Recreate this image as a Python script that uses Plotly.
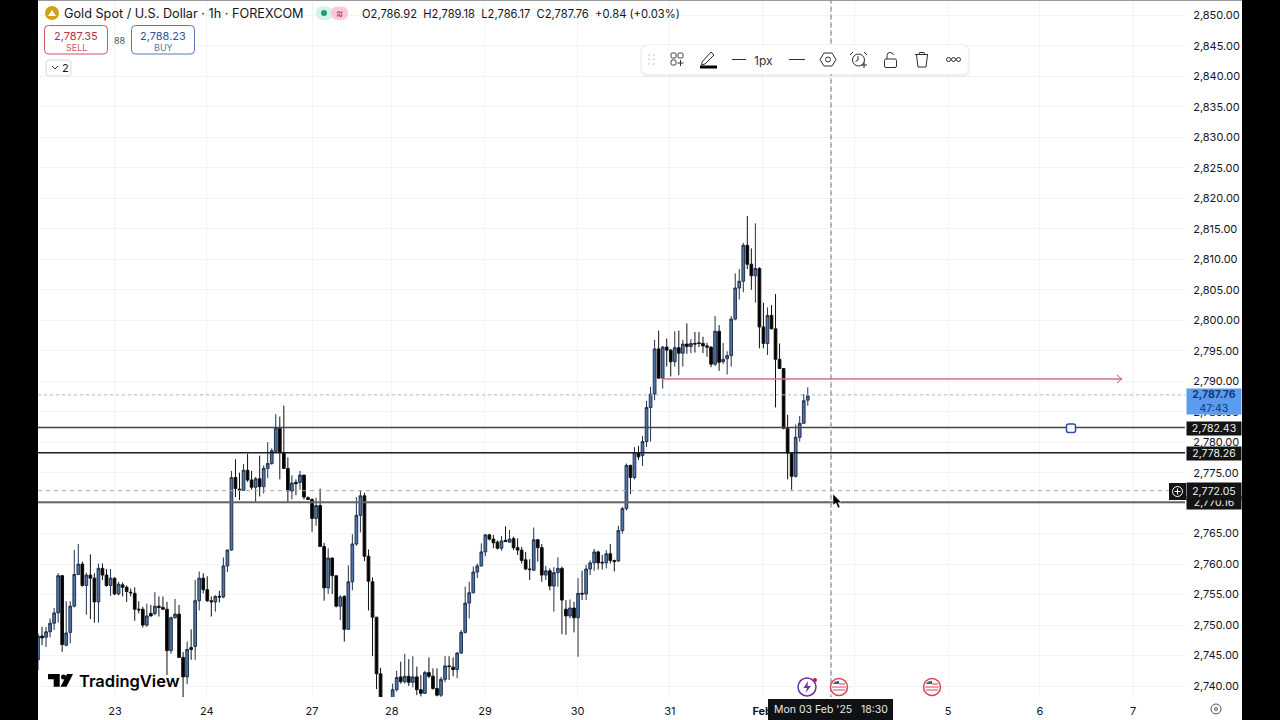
import plotly.graph_objects as go

# hourly bars, oldest first
opens = [2744.3,2748.2,2748.0,2748.9,2750.3,2752.0,2758.1,2746.7,2748.8,2753.1,2758.3,2760.0,2756.5,2758.2,2757.7,2753.8,
         2759.3,2758.2,2756.5,2757.7,2755.1,2756.6,2756.2,2755.4,2755.2,2752.6,2752.6,2750.0,2751.9,2751.9,2753.1,2752.9,
         2752.6,2745.8,2751.2,2751.8,2744.7,2741.5,2746.3,2746.5,2754.0,2757.7,2755.8,2754.0,2753.8,2754.7,2754.6,2759.7,
         2762.3,2774.2,2772.3,2772.1,2775.4,2773.8,2772.6,2774.0,2772.7,2775.7,2776.5,2778.5,2782.3,2778.3,2775.7,2772.0,
         2773.4,2773.4,2774.6,2770.9,2770.6,2767.5,2769.6,2762.9,2756.1,2761.0,2758.1,2753.1,2754.7,2749.3,2757.1,2763.3,
         2768.0,2771.2,2761.3,2757.1,2751.3,2742.0,2736.6,2737.0,2738.0,2739.4,2741.5,2740.7,2741.6,2740.6,2741.5,2739.4,
         2738.8,2742.2,2741.6,2739.6,2738.5,2741.1,2743.3,2743.1,2742.7,2745.4,2748.8,2753.6,2755.3,2758.7,2759.7,2762.0,
         2764.8,2764.1,2763.6,2762.6,2763.9,2763.6,2764.2,2762.7,2762.3,2760.7,2759.2,2759.0,2764.0,2762.7,2758.2,2758.9,
         2756.4,2758.6,2759.3,2752.6,2751.5,2752.8,2751.2,2755.2,2755.1,2759.2,2760.2,2762.0,2760.3,2760.2,2761.7,2760.6,
         2760.5,2765.5,2769.1,2776.2,2774.2,2778.3,2777.8,2780.1,2785.7,2787.9,2795.3,2790.5,2795.6,2795.1,2793.2,2795.5,
         2794.6,2796.1,2795.7,2796.2,2796.3,2796.2,2795.8,2795.6,2792.8,2798.2,2793.2,2793.7,2794.2,2800.2,2805.3,2806.4,
         2812.3,2809.2,2807.3,2808.5,2798.9,2796.2,2800.8,2798.6,2793.6,2792.1,2782.3,2778.2,2774.4,2780.8,2783.1,2786.9]
highs = [2748.7,2749.7,2749.7,2751.1,2752.8,2758.5,2758.2,2753.9,2753.9,2762.3,2763.3,2760.4,2758.6,2761.6,2758.5,2760.1,
         2760.1,2759.2,2759.2,2757.8,2757.1,2757.0,2756.5,2756.0,2756.2,2753.9,2753.0,2753.5,2753.3,2755.4,2754.7,2754.7,
         2753.8,2751.4,2754.3,2753.3,2745.6,2747.3,2749.3,2757.4,2758.8,2758.5,2758.0,2754.7,2754.9,2755.6,2761.1,2762.4,
         2775.3,2777.2,2775.0,2776.4,2778.1,2775.3,2774.3,2777.8,2776.2,2780.0,2779.0,2784.6,2784.2,2786.0,2777.5,2774.6,
         2773.9,2775.3,2774.6,2771.1,2770.8,2770.9,2772.4,2763.5,2762.6,2761.0,2758.1,2754.9,2754.9,2759.8,2764.9,2771.0,
         2772.0,2771.7,2762.4,2757.8,2751.3,2743.0,2737.8,2737.9,2740.4,2742.5,2744.0,2745.3,2744.4,2744.9,2743.2,2741.8,
         2742.5,2744.7,2742.9,2742.9,2741.5,2744.9,2744.9,2744.7,2745.6,2749.2,2756.3,2757.1,2759.6,2760.1,2763.4,2764.9,
         2764.9,2764.8,2763.9,2764.6,2766.2,2765.6,2764.5,2764.2,2762.8,2762.0,2760.8,2766.0,2764.1,2763.3,2759.7,2759.3,
         2759.5,2761.1,2759.6,2754.1,2754.2,2753.8,2757.7,2758.9,2759.9,2760.6,2762.5,2762.2,2761.5,2762.3,2763.3,2760.7,
         2766.3,2769.4,2776.5,2776.3,2779.2,2779.4,2781.0,2786.8,2789.1,2796.8,2798.3,2795.8,2797.0,2795.3,2798.2,2798.3,
         2796.8,2799.5,2796.9,2798.1,2798.1,2797.3,2796.3,2795.7,2800.7,2799.2,2796.3,2794.9,2800.7,2807.7,2808.4,2812.7,
         2817.1,2811.8,2815.9,2808.7,2802.9,2802.1,2802.5,2804.3,2796.2,2792.1,2784.5,2778.2,2782.9,2784.3,2787.9,2789.0]
lows = [2742.6,2746.7,2746.4,2748.0,2749.2,2750.4,2745.6,2746.5,2747.0,2752.9,2758.2,2756.3,2751.7,2751.0,2750.4,2750.4,
        2757.4,2756.3,2754.8,2754.9,2754.9,2754.7,2753.8,2754.7,2750.7,2751.9,2749.6,2749.7,2751.4,2751.6,2751.4,2752.5,
        2741.8,2745.3,2751.1,2744.7,2738.2,2740.3,2744.3,2744.3,2752.4,2755.2,2753.8,2751.4,2752.2,2753.7,2754.4,2758.7,
        2762.2,2771.0,2770.5,2772.1,2773.5,2772.2,2770.1,2771.1,2771.6,2774.1,2776.3,2778.3,2773.9,2775.6,2770.1,2770.6,
        2771.3,2772.2,2770.6,2770.5,2765.3,2766.3,2762.9,2754.0,2755.1,2755.1,2752.9,2750.8,2747.3,2749.3,2755.7,2763.0,
        2765.2,2760.5,2752.4,2744.9,2739.5,2735.5,2735.0,2735.5,2737.5,2739.1,2740.4,2740.4,2740.0,2739.8,2738.5,2738.3,
        2738.7,2741.3,2739.4,2738.3,2738.2,2740.6,2741.0,2741.6,2741.3,2745.3,2748.6,2751.1,2755.2,2757.7,2759.6,2761.3,
        2763.9,2762.6,2762.4,2762.2,2763.7,2763.5,2762.3,2761.5,2760.1,2759.0,2757.4,2758.9,2760.4,2757.1,2757.4,2755.7,
        2752.2,2756.3,2748.5,2748.4,2751.1,2748.8,2744.8,2754.1,2754.1,2758.2,2758.9,2759.1,2759.1,2759.3,2760.1,2758.8,
        2760.4,2765.0,2768.8,2771.5,2773.9,2777.1,2776.1,2779.2,2780.1,2786.9,2790.5,2788.8,2792.4,2790.8,2792.4,2791.0,
        2792.4,2794.5,2794.6,2794.7,2795.6,2794.6,2794.0,2792.3,2792.5,2791.7,2792.8,2791.1,2792.4,2800.0,2803.4,2804.6,
        2808.4,2805.0,2802.9,2795.4,2795.4,2794.3,2798.5,2785.7,2792.0,2782.1,2773.9,2772.2,2774.2,2780.1,2783.0,2786.0]
closes = [2748.2,2747.9,2748.9,2750.3,2752.0,2758.1,2746.8,2748.7,2753.1,2758.3,2760.0,2756.5,2758.2,2757.7,2753.8,2759.3,
          2758.2,2756.5,2757.7,2755.1,2756.7,2756.2,2755.5,2755.3,2752.6,2752.5,2750.0,2751.5,2751.5,2753.1,2752.9,2752.6,
          2745.8,2751.2,2751.8,2744.7,2741.5,2746.0,2746.0,2754.0,2757.7,2755.8,2754.0,2753.8,2754.7,2754.6,2759.7,2762.3,
          2774.2,2772.4,2772.1,2775.4,2773.8,2772.6,2774.0,2772.7,2775.7,2776.5,2778.6,2782.3,2778.3,2775.7,2772.0,2773.3,
          2773.2,2774.6,2771.0,2770.6,2767.5,2769.6,2762.9,2756.1,2761.0,2758.1,2753.1,2754.6,2749.3,2757.1,2763.3,2768.0,
          2771.2,2761.3,2757.2,2751.3,2742.0,2736.6,2737.0,2736.3,2739.4,2741.4,2740.7,2741.6,2740.6,2741.5,2739.4,2738.8,
          2742.2,2741.6,2739.6,2738.5,2741.1,2743.3,2743.2,2742.7,2745.4,2748.8,2753.6,2755.3,2758.7,2759.7,2762.0,2764.8,
          2764.1,2763.5,2762.6,2763.8,2763.7,2764.1,2762.7,2762.3,2760.6,2759.2,2759.1,2764.0,2762.7,2758.2,2758.9,2756.4,
          2758.6,2759.3,2754.1,2751.5,2752.8,2751.2,2755.2,2755.1,2759.2,2760.2,2762.0,2760.2,2760.2,2761.7,2760.6,2760.4,
          2765.5,2769.1,2776.2,2774.2,2778.3,2777.6,2780.1,2785.7,2787.9,2795.3,2790.5,2795.6,2795.1,2793.2,2795.5,2794.6,
          2796.1,2795.7,2796.2,2796.1,2796.2,2795.8,2795.6,2792.8,2798.2,2793.1,2793.6,2794.2,2800.2,2805.3,2806.4,2812.3,
          2809.2,2807.3,2808.5,2798.9,2796.2,2800.8,2798.6,2793.6,2792.1,2782.3,2778.2,2774.4,2780.8,2783.1,2786.8,2787.6]
bars = list(range(len(opens)))

price_ticks = list(range(2740, 2855, 5))
day_ticks = [19.1, 41.9, 68.0, 87.8, 110.9, 133.9, 156.8, 179.7, 202.7, 225.8, 248.6, 271.7]
day_labels = ["23", "24", "27", "28", "29", "30", "31", "<b>Feb</b>", "4", "5", "6", "7"]

level_prices = [2782.43, 2778.26, 2770.16]
level_colors = ["#444444", "#1c1c1c", "#666666"]
level_widths = [1.5, 1.4, 2]
last_price = 2787.76
cross_price = 2772.05
ray_price = 2790.37
ray_start = 154.8
ray_end = 269.0

FONT = "Inter"
INK = "#131722"

fig = go.Figure()
fig.add_trace(go.Candlestick(
    x=bars, open=opens, high=highs, low=lows, close=closes,
    increasing=dict(fillcolor="#4f74a8", line=dict(color="#22324e", width=1)),
    decreasing=dict(fillcolor="#000000", line=dict(color="#111111", width=1)),
    whiskerwidth=0, showlegend=False, hoverinfo="skip",
))
# hidden overlay in screen pixels for the platform furniture
fig.add_trace(go.Scatter(x=[0], y=[0], xaxis="x2", yaxis="y2", mode="markers",
                         marker=dict(opacity=0), showlegend=False, hoverinfo="skip"))

fig.update_layout(
    width=1280, height=720, margin=dict(l=0, r=0, t=0, b=0),
    paper_bgcolor="white", plot_bgcolor="rgba(0,0,0,0)", boxgap=0.05,
    font=dict(family=FONT, color=INK, size=11),
    xaxis=dict(domain=[38/1280, 1185/1280], range=[0, 284.6], tickmode="array",
               tickvals=day_ticks, ticktext=day_labels, showgrid=True, gridcolor="#f2f3f5",
               zeroline=False, rangeslider=dict(visible=False), ticks="outside",
               ticklen=4, tickcolor="rgba(0,0,0,0)", fixedrange=True),
    yaxis=dict(domain=[23/720, 1], range=[2738.2, 2852.54], side="right", tickmode="array",
               tickvals=price_ticks, tickformat=",.2f", showgrid=True, gridcolor="#f2f3f5",
               zeroline=False, ticks="outside", ticklen=5, tickcolor="rgba(0,0,0,0)", fixedrange=True),
    xaxis2=dict(domain=[0, 1], range=[0, 1280], visible=False, anchor="y2", fixedrange=True),
    yaxis2=dict(domain=[0, 1], range=[720, 0], visible=False, anchor="x2", fixedrange=True),
)


def box(x0, y0, x1, y1, fill=None, line=None, width=1, kind="rect", dash=None):
    fig.add_shape(type=kind, xref="x2", yref="y2", x0=x0, y0=y0, x1=x1, y1=y1, layer="above",
                  fillcolor=fill or "rgba(0,0,0,0)",
                  line=dict(color=line or "rgba(0,0,0,0)", width=width, dash=dash))


def path(p, fill=None, line="#2a2e39", width=1):
    fig.add_shape(type="path", path=p, xref="x2", yref="y2", layer="above",
                  fillcolor=fill or "rgba(0,0,0,0)",
                  line=dict(color=line or "rgba(0,0,0,0)", width=width))


def rounded(x0, y0, x1, y1, r, fill=None, line=None, width=1):
    p = (f"M{x0+r},{y0} L{x1-r},{y0} Q{x1},{y0} {x1},{y0+r} L{x1},{y1-r} Q{x1},{y1} {x1-r},{y1} "
         f"L{x0+r},{y1} Q{x0},{y1} {x0},{y1-r} L{x0},{y0+r} Q{x0},{y0} {x0+r},{y0} Z")
    path(p, fill, line, width)


def text(x, y, s, size=11, color=INK, anchor="left", bg=None, **kw):
    fig.add_annotation(x=x, y=y, xref="x2", yref="y2", text=s, showarrow=False, xanchor=anchor,
                       yanchor="middle", font=dict(size=size, color=color, family=FONT),
                       bgcolor=bg, borderpad=0, **kw)


# drawn levels and crosshair on the price scale
for level, color, w in zip(level_prices, level_colors, level_widths):
    fig.add_shape(type="line", x0=0, x1=1, xref="x domain", y0=level, y1=level, yref="y",
                  line=dict(color=color, width=w), layer="above")
fig.add_shape(type="line", x0=0, x1=1, xref="x domain", y0=last_price, y1=last_price, yref="y",
              line=dict(color="#8fc0cc", width=1, dash="dot"), layer="above")
fig.add_shape(type="line", x0=0, x1=1, xref="x domain", y0=cross_price, y1=cross_price, yref="y",
              line=dict(color="#a4a7ae", width=1, dash="4px,4px"), layer="above")
fig.add_shape(type="line", x0=ray_start, x1=ray_end, xref="x", y0=ray_price, y1=ray_price, yref="y",
              line=dict(color="#cf7283", width=1.3), layer="above")
path("M1117,375 L1121.5,379 L1117,383", None, "#c9566b", 1)
box(831, 0, 831, 697, None, "#8f929a", 1, dash="4px,4px")
rounded(1066.5, 424, 1075.5, 432.5, 2, "white", "#2a4ea0", 1.5)

# side bars and frame
box(0, 0, 38, 720, "black")
box(1242, 0, 1280, 720, "black")
box(38, 0, 1242, 1, "#9a9a9a")

# header
box(45, 6, 59, 20, "#d4a017", None, kind="circle")
path("M48,16 L52,10 L56,16 Z", "white", None)
text(63, 13.5, "Gold Spot / U.S. Dollar · 1h · FOREXCOM", 12.7)
rounded(316, 6.5, 333, 20, 6.5, "#d7f2e7")
rounded(331, 6.5, 348, 20, 6.5, "#f9c9dc")
box(321, 10, 327, 16, "#1f9d73", None, kind="circle")
text(339, 13, "≈", 11, "#c2255c", "center")
text(360.5, 13.5, "O2,786.92  H2,789.18  L2,786.17  C2,787.76  +0.84 (+0.03%)", 11.2)

rounded(44.5, 25.5, 107.5, 54, 4, "white", "#c9566b", 1)
text(76, 35.5, "2,787.35", 11, "#b5304a", "center")
text(76, 47, "SELL", 9, "#c9566b", "center")
text(120, 40, "88", 9, "#50535e", "center")
rounded(131.5, 25.5, 194.5, 54, 4, "white", "#5b78b0", 1)
text(163, 35.5, "2,788.23", 11, "#2f5597", "center")
text(163, 47, "BUY", 9, "#5b78b0", "center")
rounded(46, 60, 71, 76, 3, "white", "#d6d8de", 1)
path("M52,66 L55,69 L58,66", None, "#333333", 1)
text(65, 68, "2", 11, INK, "center")

# drawing toolbar
rounded(640, 44, 970, 77, 8, "rgba(0,0,0,0.05)")
rounded(642, 45, 968, 74, 7, "white")
for dx in (649, 654):
    for dy in (55, 59.5, 64):
        box(dx - 0.8, dy - 0.8, dx + 0.8, dy + 0.8, "#b8bbc2", None, kind="circle")
rounded(671, 53, 676, 58, 1.2, None, "#3a3e48")
rounded(678, 53, 683, 58, 1.2, None, "#3a3e48")
rounded(671, 60, 676, 65, 1.2, None, "#3a3e48")
path("M680.5,60 L680.5,66 M677.5,63 L683.5,63")
path("M702,62 L711,52 L714,55 L705,64 L701.5,65 Z", None, "#2a2e39", 1)
box(700, 65.5, 717, 68.5, "black")
path("M732,59.5 L746,59.5")
text(763, 60, "1px", 12, "#2a2e39", "center")
path("M789,59.5 L805,59.5")
path("M820,59.5 L824,53 L832,53 L836,59.5 L832,66 L824,66 Z")
box(825.5, 57, 830.5, 62, None, "#2a2e39", 1, "circle")
box(852.5, 54, 864.5, 66, None, "#2a2e39", 1, "circle")
path("M853,52 L850,55 M864,52 L867,55 M858,56 L858,60 L855.5,61.5")
path("M864,62 L864,68 M861,65 L867,65", None, "#2a2e39", 1)
rounded(884.5, 59, 896.5, 67.5, 1.5, None, "#2a2e39")
path("M887,59 L887,55.5 Q887,52.5 890,52.5 Q893,52.5 893.5,55")
path("M915,54.5 L928,54.5 M919,54 L919.5,52.5 L924,52.5 L924.5,54 M916.5,55 L918,67 L926,67 L927.5,55")
for dx in (948.5, 953.5, 958.5):
    box(dx - 2, 57.5, dx + 2, 61.5, None, "#2a2e39", 1, "circle")

# watermark
path("M48,674 L59.7,674 L59.7,686.7 L53.7,686.7 L53.7,679.3 L48,679.3 Z", "black", None)
box(61, 674.5, 66, 679.5, "black", None, kind="circle")
path("M67,674 L73,674 L66.5,686.7 L60.5,686.7 Z", "black", None)
fig.add_annotation(x=77, y=681, xref="x2", yref="y2", text="TradingView", showarrow=False, xanchor="left",
                   font=dict(size=16.5, color="black", family=FONT, weight=600))

# event markers and time tooltip
box(798, 678, 816, 696, "white", "#6a2fa0", 1.5, "circle")
path("M808,681 L803.5,688 L807,688 L805.5,693 L811,686 L807.5,686 Z", "#6a2fa0", None)
box(813, 678, 817, 682, "#c2185b", None, kind="circle")
for cx in (839, 932):
    box(cx - 8.5, 678.5, cx + 8.5, 695.5, "white", "#d64550", 1.5, "circle")
    path(f"M{cx-6},684 L{cx},684 L{cx},681 Q{cx-5},681 {cx-6},684 Z", "#3c5a99", None)
    path(f"M{cx},684 L{cx+6},684 M{cx-7},687 L{cx+7},687 M{cx-6},690 L{cx+6},690", None, "#d64550", 1)
box(768, 699, 893, 720, "#101114")
text(830.5, 709.5, "Mon 03 Feb '25   18:30", 10.5, "#e8e9ec", "center")
box(1211, 704, 1221, 714, None, "#50535e", 1, "circle")
box(1214.5, 707.5, 1217.5, 710.5, None, "#50535e", 1, "circle")

# price scale tags
tags = [(428.5, "2,782.43", 13), (453.5, "2,778.26", 13), (502.5, "2,770.16", 13), (491.5, "2,772.05", 17)]
for ty, label, tag_h in tags:
    text(1214, ty, label, 10.5, "#f0f0f0", "center", "#131313", width=54, height=tag_h)
box(1169, 483, 1186, 500, "#131313")
box(1172.5, 486.5, 1182.5, 496.5, None, "white", 1, "circle")
path("M1177.5,488.5 L1177.5,494.5 M1174.5,491.5 L1180.5,491.5", None, "white", 1)
fig.add_annotation(x=1214, y=401.5, xref="x2", yref="y2", text="<b>2,787.76</b><br>47:43", showarrow=False,
                   xanchor="center", yanchor="middle", align="center", bgcolor="#5b9cf0",
                   width=54, height=25, borderpad=0,
                   font=dict(size=10.5, color="#123a78", family=FONT))
# mouse pointer
path("M833,494 L833,505 L836,503 L838,508 L840,507 L838,502.5 L841,502 Z", "black", "white", 0.5)

fig.write_html("out.html", config={"displayModeBar": False}, post_script="document.body.style.margin='0';")
